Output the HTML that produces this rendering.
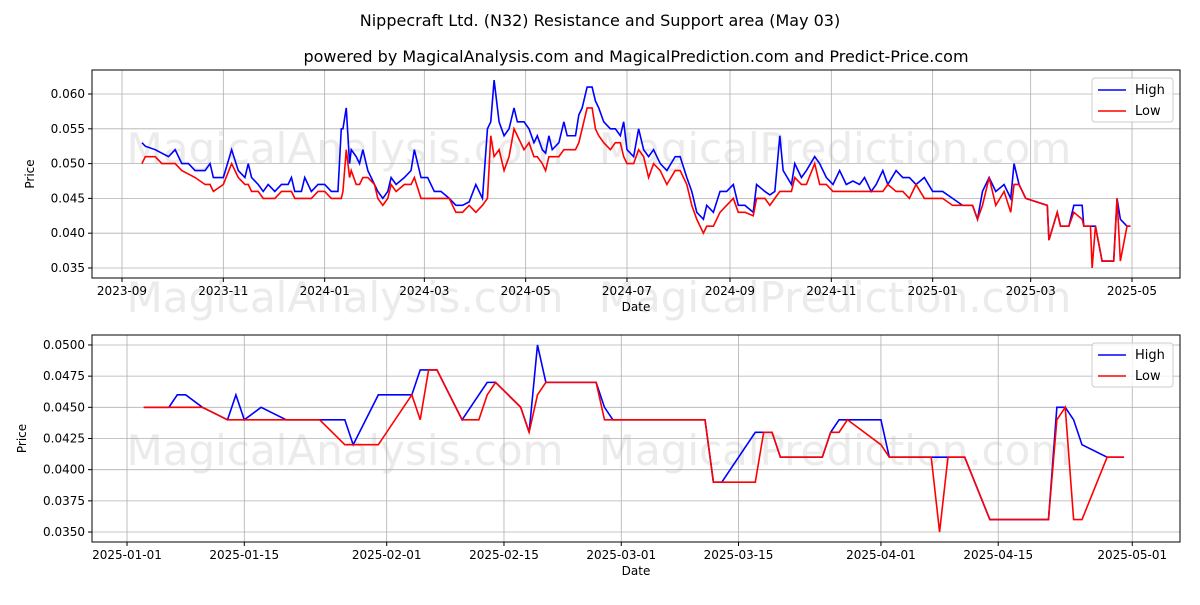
<!DOCTYPE html>
<html><head><meta charset="utf-8"><style>
body{margin:0;background:#fff;font-family:"Liberation Sans","DejaVu Sans",sans-serif}
svg text{font-family:"DejaVu Sans","Liberation Sans",sans-serif}
</style></head><body>
<svg id="c" width="1200" height="600" xmlns="http://www.w3.org/2000/svg">
<rect width="1200" height="600" fill="#fff"/>
<text x="600" y="26" text-anchor="middle" font-size="16">Nippecraft Ltd. (N32) Resistance and Support area (May 03)</text>
<text x="636" y="62" text-anchor="middle" font-size="16">powered by MagicalAnalysis.com and MagicalPrediction.com and Predict-Price.com</text>
<g id="g"></g>
</svg>
<script>
// Top chart: days since 2023-09-01
const topDays=[12,14,20,24,28,32,36,40,44,50,53,55,61,66,70,74,76,78,82,85,88,92,96,100,102,104,108,110,114,118,122,126,130,132,133,135,137,138,141,143,145,148,152,154,157,160,162,165,170,174,176,180,184,188,192,197,201,205,209,213,217,220,222,224,227,230,233,236,238,242,245,248,250,253,255,257,259,263,266,268,273,275,277,280,283,285,287,290,294,297,300,302,304,308,311,314,317,320,324,328,333,336,340,343,346,350,352,356,360,364,368,371,375,380,382,387,390,393,396,398,403,405,409,412,417,420,424,428,432,436,440,444,447,451,454,458,461,466,470,474,478,483,488,494,500,506,512,515,518,522,526,531,535,537,540,544,557,558,563,565,570,573,578,579,583,584,586,590,597,599,601,605,607];
const topHigh=[.053,.0525,.052,.0515,.051,.052,.050,.050,.049,.049,.050,.048,.048,.052,.049,.048,.050,.048,.047,.046,.047,.046,.047,.047,.048,.046,.046,.048,.046,.047,.047,.046,.046,.055,.055,.058,.050,.052,.051,.050,.052,.049,.047,.046,.045,.046,.048,.047,.048,.049,.052,.048,.048,.046,.046,.045,.044,.044,.0445,.047,.045,.055,.056,.062,.056,.054,.055,.058,.056,.056,.055,.053,.054,.052,.0515,.054,.052,.053,.056,.054,.054,.057,.058,.061,.061,.059,.058,.056,.055,.055,.054,.056,.052,.051,.055,.052,.051,.052,.050,.049,.051,.051,.048,.046,.043,.042,.044,.043,.046,.046,.047,.044,.044,.043,.047,.046,.0455,.046,.054,.049,.047,.050,.048,.049,.051,.050,.048,.047,.049,.047,.0475,.047,.048,.046,.047,.049,.047,.049,.048,.048,.047,.048,.046,.046,.045,.044,.044,.042,.046,.048,.046,.047,.045,.050,.047,.045,.044,.039,.043,.041,.041,.044,.044,.041,.041,.041,.041,.036,.036,.045,.042,.041,.041];
const topLow=[.050,.051,.051,.050,.050,.050,.049,.0485,.048,.047,.047,.046,.047,.050,.048,.047,.047,.046,.046,.045,.045,.045,.046,.046,.046,.045,.045,.045,.045,.046,.046,.045,.045,.045,.046,.052,.048,.049,.047,.047,.048,.048,.047,.045,.044,.045,.047,.046,.047,.047,.048,.045,.045,.045,.045,.045,.043,.043,.044,.043,.044,.045,.054,.051,.052,.049,.051,.055,.054,.052,.053,.051,.051,.050,.049,.051,.051,.051,.052,.052,.052,.053,.055,.058,.058,.055,.054,.053,.052,.053,.053,.051,.050,.050,.052,.051,.048,.050,.049,.047,.049,.049,.047,.044,.042,.040,.041,.041,.043,.044,.045,.043,.043,.0425,.045,.045,.044,.045,.046,.046,.046,.048,.047,.047,.050,.047,.047,.046,.046,.046,.046,.046,.046,.046,.046,.046,.047,.046,.046,.045,.047,.045,.045,.045,.044,.044,.044,.042,.044,.048,.044,.046,.043,.047,.047,.045,.044,.039,.043,.041,.041,.043,.042,.041,.041,.035,.041,.036,.036,.045,.036,.041,.041];
const topXTicks=['2023-09','2023-11','2024-01','2024-03','2024-05','2024-07','2024-09','2024-11','2025-01','2025-03','2025-05'];
const topYTicks=[0.035,0.040,0.045,0.050,0.055,0.060];
// Bottom chart
const botDates=['2025-01-03','2025-01-06','2025-01-07','2025-01-08','2025-01-10','2025-01-13','2025-01-14','2025-01-15','2025-01-17','2025-01-20','2025-01-24','2025-01-27','2025-01-28','2025-01-31','2025-02-04','2025-02-05','2025-02-06','2025-02-07','2025-02-10','2025-02-12','2025-02-13','2025-02-14','2025-02-17','2025-02-18','2025-02-19','2025-02-20','2025-02-26','2025-02-27','2025-02-28','2025-03-11','2025-03-12','2025-03-13','2025-03-17','2025-03-18','2025-03-19','2025-03-20','2025-03-25','2025-03-26','2025-03-27','2025-03-28','2025-04-01','2025-04-02','2025-04-07','2025-04-08','2025-04-09','2025-04-11','2025-04-14','2025-04-21','2025-04-22','2025-04-23','2025-04-24','2025-04-25','2025-04-28','2025-04-30'];
const botHigh=[.045,.045,.046,.046,.045,.044,.046,.044,.045,.044,.044,.044,.042,.046,.046,.048,.048,.048,.044,.046,.047,.047,.045,.043,.050,.047,.047,.045,.044,.044,.039,.039,.043,.043,.043,.041,.041,.043,.044,.044,.044,.041,.041,.041,.041,.041,.036,.036,.045,.045,.044,.042,.041,.041];
const botLow=[.045,.045,.045,.045,.045,.044,.044,.044,.044,.044,.044,.042,.042,.042,.046,.044,.048,.048,.044,.044,.046,.047,.045,.043,.046,.047,.047,.044,.044,.044,.039,.039,.039,.043,.043,.041,.041,.043,.043,.044,.042,.041,.041,.035,.041,.041,.036,.036,.044,.045,.036,.036,.041,.041];
const botXTicks=['2025-01-01','2025-01-15','2025-02-01','2025-02-15','2025-03-01','2025-03-15','2025-04-01','2025-04-15','2025-05-01'];
const botYTicks=[0.0350,0.0375,0.0400,0.0425,0.0450,0.0475,0.0500];

const NS='http://www.w3.org/2000/svg',G=document.getElementById('g');
function mk(t,a,p){const e=document.createElementNS(NS,t);for(const k in a)e.setAttribute(k,a[k]);(p||G).appendChild(e);return e;}
const DAY=86400000;
const t0=Date.UTC(2023,8,1), b0=Date.UTC(2025,0,1);
function dd(s,base){const p=s.split('-');return (Date.UTC(+p[0],+p[1]-1,p[2]?+p[2]:1)-base)/DAY;}
function wm(y){
  let w=mk('text',{x:345,y:y,'text-anchor':'middle','font-size':42,fill:'#ebebeb'});
  
  
  w.textContent='MagicalAnalysis.com';
  w=mk('text',{x:835,y:y,'text-anchor':'middle','font-size':42,fill:'#ebebeb'});
  
  
  w.textContent='MagicalPrediction.com';
}
function panel(o){
  const {L,R,T,B,xmin,xmax,ymin,ymax}=o;
  const X=v=>L+(v-xmin)/(xmax-xmin)*(R-L), Y=v=>B-(v-ymin)/(ymax-ymin)*(B-T);
  o.wy.forEach(wm);
  o.xt.forEach(s=>{const x=X(dd(s,o.base));
    const l=mk('line',{x1:x,x2:x,y1:T,y2:B,stroke:'#b0b0b0','stroke-width':0.8});
    mk('line',{x1:x,x2:x,y1:B,y2:B+4,stroke:'#000'});
    const t=mk('text',{x:x,y:B+17,'text-anchor':'middle','font-size':12});t.textContent=s;});
  o.yt.forEach(v=>{const y=Y(v);
    const l=mk('line',{x1:L,x2:R,y1:y,y2:y,stroke:'#b0b0b0','stroke-width':0.8});
    mk('line',{x1:L-4,x2:L,y1:y,y2:y,stroke:'#000'});
    const t=mk('text',{x:L-7,y:y+4,'text-anchor':'end','font-size':12});t.textContent=v.toFixed(o.dec);});
  [[o.xs,o.hi,'#0000ff','high-line'],[o.xs,o.lo,'#ff0000','low-line']].forEach(([xs,ys,c,n])=>{
    const p=mk('polyline',{points:xs.map((x,i)=>X(x)+','+Y(ys[i])).join(' '),fill:'none',stroke:c,'stroke-width':1.6});
    });
  const f=mk('rect',{x:L,y:T,width:R-L,height:B-T,fill:'none',stroke:'#000','stroke-width':1});
  let t=mk('text',{x:(L+R)/2,y:B+33,'text-anchor':'middle','font-size':12});t.textContent='Date';
  t=mk('text',{x:0,y:0,'text-anchor':'middle','font-size':12,transform:`translate(${o.ylx},${(T+B)/2}) rotate(-90)`});t.textContent='Price';
  const lg=mk('g',{});
  mk('rect',{x:R-88,y:T+8,width:81,height:44,rx:3,fill:'#fff','fill-opacity':0.8,stroke:'#ccc'},lg);
  [['High','#0000ff',T+20],['Low','#ff0000',T+41]].forEach(([s,c,y])=>{
    const e=mk('line',{x1:R-82,x2:R-54,y1:y,y2:y,stroke:c,'stroke-width':1.6},lg);
    const tt=mk('text',{x:R-45,y:y+4,'font-size':13},lg);tt.textContent=s;});
}
panel({L:92,R:1180,T:70,B:278,xmin:-18.06,xmax:636.9,ymin:0.03356,ymax:0.06345,base:t0,
  xt:topXTicks,yt:topYTicks,dec:3,xs:topDays,hi:topHigh,lo:topLow,ylx:34,wy:[163,312]});
panel({L:92,R:1180,T:335,B:542,xmin:-4.18,xmax:125.7,ymin:0.0342,ymax:0.0508,base:b0,
  xt:botXTicks,yt:botYTicks,dec:4,xs:botDates.map(s=>dd(s,b0)),hi:botHigh,lo:botLow,ylx:26,wy:[465]});
</script>
</body></html>
